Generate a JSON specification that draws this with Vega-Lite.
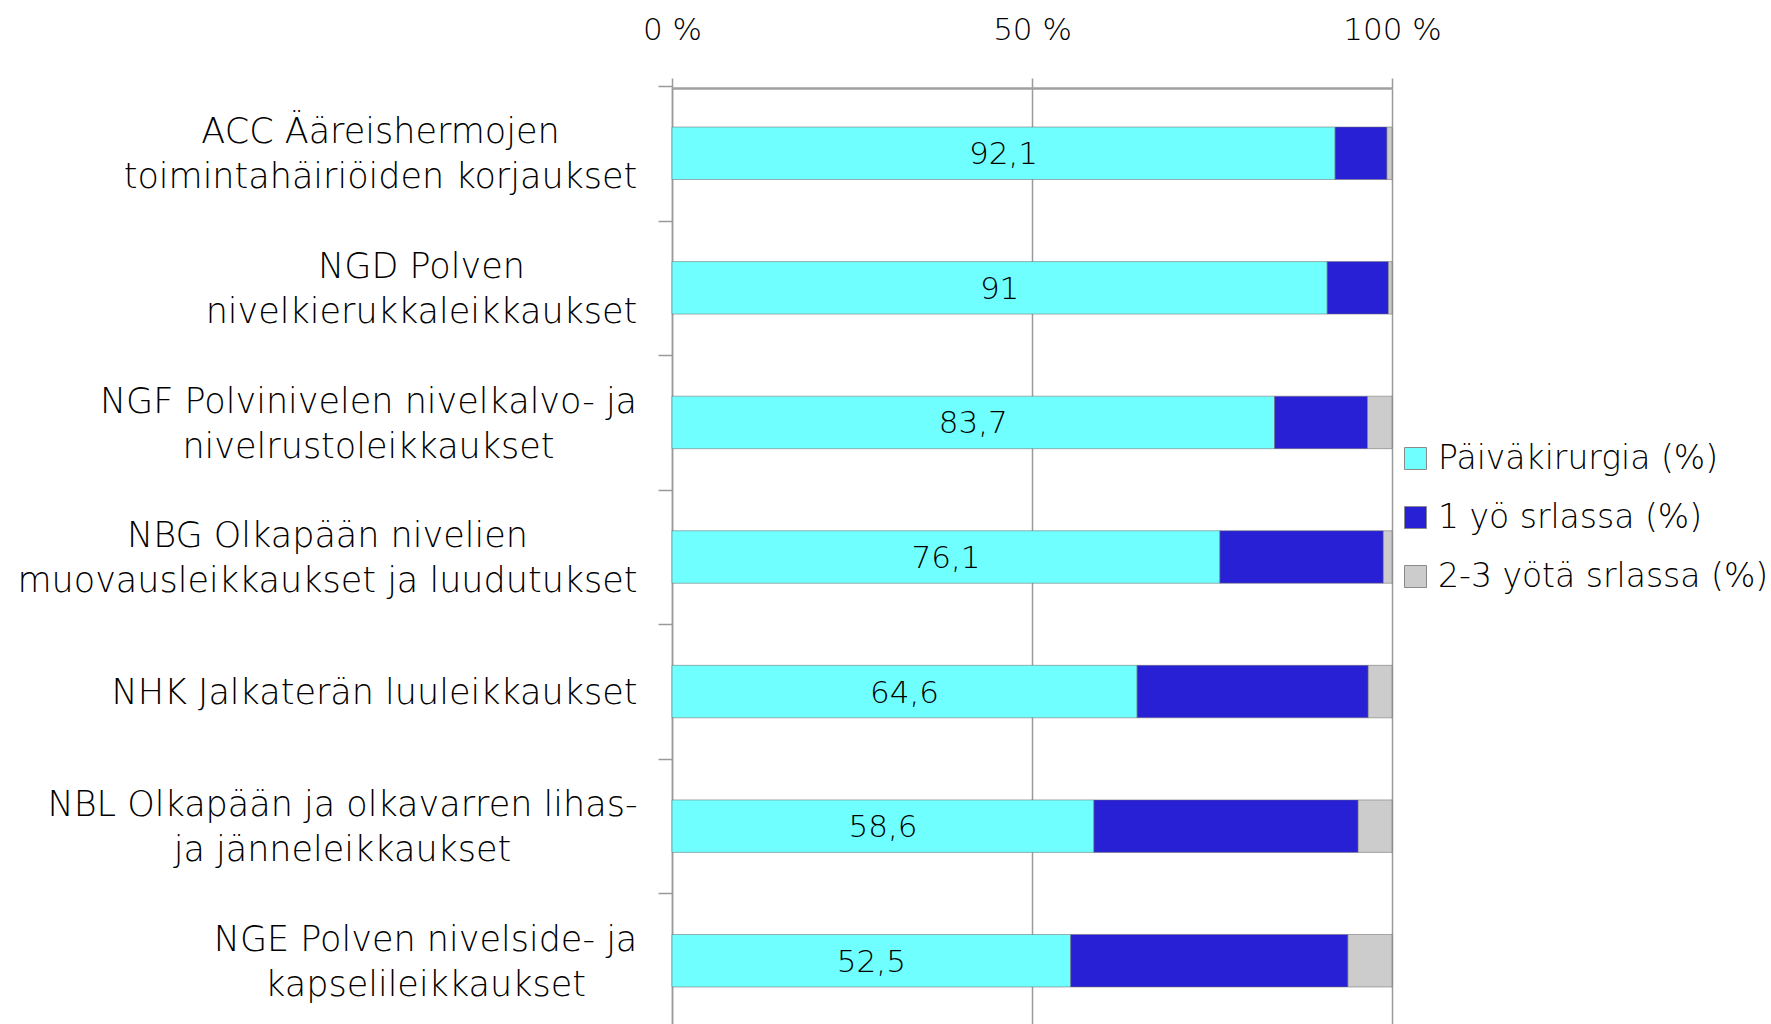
{
  "$schema": "https://vega.github.io/schema/vega-lite/v6.json",
  "autosize": {"type": "none"},
  "padding": {"left": 672, "top": 88, "right": 379, "bottom": 0},
  "width": 720,
  "height": 938,
  "background": "white",
  "config": {
    "view": {"stroke": null},
    "font": "DejaVu Sans",
    "locale": {"number": {"decimal": ",", "thousands": "\u00a0", "grouping": [3], "currency": ["", "\u00a0€"], "percent": "\u00a0%"}}
  },
  "data": {
    "values": [
      {"cat": "ACC Ääreishermojen\ntoimintahäiriöiden korjaukset", "series": "Päiväkirurgia (%)", "k": 1, "value": 92.1},
      {"cat": "ACC Ääreishermojen\ntoimintahäiriöiden korjaukset", "series": "1 yö srlassa  (%)", "k": 2, "value": 7.2},
      {"cat": "ACC Ääreishermojen\ntoimintahäiriöiden korjaukset", "series": "2-3 yötä srlassa (%)", "k": 3, "value": 0.7},
      {"cat": "NGD Polven\nnivelkierukkaleikkaukset", "series": "Päiväkirurgia (%)", "k": 1, "value": 91},
      {"cat": "NGD Polven\nnivelkierukkaleikkaukset", "series": "1 yö srlassa  (%)", "k": 2, "value": 8.5},
      {"cat": "NGD Polven\nnivelkierukkaleikkaukset", "series": "2-3 yötä srlassa (%)", "k": 3, "value": 0.5},
      {"cat": "NGF Polvinivelen nivelkalvo- ja\nnivelrustoleikkaukset", "series": "Päiväkirurgia (%)", "k": 1, "value": 83.7},
      {"cat": "NGF Polvinivelen nivelkalvo- ja\nnivelrustoleikkaukset", "series": "1 yö srlassa  (%)", "k": 2, "value": 12.9},
      {"cat": "NGF Polvinivelen nivelkalvo- ja\nnivelrustoleikkaukset", "series": "2-3 yötä srlassa (%)", "k": 3, "value": 3.4},
      {"cat": "NBG Olkapään nivelien\nmuovausleikkaukset ja luudutukset", "series": "Päiväkirurgia (%)", "k": 1, "value": 76.1},
      {"cat": "NBG Olkapään nivelien\nmuovausleikkaukset ja luudutukset", "series": "1 yö srlassa  (%)", "k": 2, "value": 22.7},
      {"cat": "NBG Olkapään nivelien\nmuovausleikkaukset ja luudutukset", "series": "2-3 yötä srlassa (%)", "k": 3, "value": 1.2},
      {"cat": "NHK Jalkaterän luuleikkaukset", "series": "Päiväkirurgia (%)", "k": 1, "value": 64.6},
      {"cat": "NHK Jalkaterän luuleikkaukset", "series": "1 yö srlassa  (%)", "k": 2, "value": 32.1},
      {"cat": "NHK Jalkaterän luuleikkaukset", "series": "2-3 yötä srlassa (%)", "k": 3, "value": 3.3},
      {"cat": "NBL Olkapään ja olkavarren lihas-\nja jänneleikkaukset", "series": "Päiväkirurgia (%)", "k": 1, "value": 58.6},
      {"cat": "NBL Olkapään ja olkavarren lihas-\nja jänneleikkaukset", "series": "1 yö srlassa  (%)", "k": 2, "value": 36.7},
      {"cat": "NBL Olkapään ja olkavarren lihas-\nja jänneleikkaukset", "series": "2-3 yötä srlassa (%)", "k": 3, "value": 4.7},
      {"cat": "NGE Polven nivelside- ja\nkapselileikkaukset", "series": "Päiväkirurgia (%)", "k": 1, "value": 52.5},
      {"cat": "NGE Polven nivelside- ja\nkapselileikkaukset", "series": "1 yö srlassa  (%)", "k": 2, "value": 36.5},
      {"cat": "NGE Polven nivelside- ja\nkapselileikkaukset", "series": "2-3 yötä srlassa (%)", "k": 3, "value": 5.8}
    ]
  },
  "encoding": {
    "y": {
      "field": "cat",
      "type": "nominal",
      "sort": null,
      "title": null,
      "scale": {"paddingInner": 0.61, "paddingOuter": 0.29},
      "axis": {
        "labelExpr": "split(datum.label, '\\n')",
        "labelFontSize": 35,
        "labelFontWeight": 200,
        "labelColor": "#000000",
        "labelLineHeight": 45,
        "labelLimit": 900,
        "labelAlign": "center",
        "labelPadding": {
          "condition": [
            {"test": "indexof(datum.value, 'ACC') === 0", "value": 278},
            {"test": "indexof(datum.value, 'NGD') === 0", "value": 237},
            {"test": "indexof(datum.value, 'NGF') === 0", "value": 290},
            {"test": "indexof(datum.value, 'NBG') === 0", "value": 331},
            {"test": "indexof(datum.value, 'NHK') === 0", "value": 284},
            {"test": "indexof(datum.value, 'NBL') === 0", "value": 316}
          ],
          "value": 233
        },
        "labelOffset": {"condition": {"test": "indexof(datum.value, '\\n') >= 0", "value": 46}, "value": 68},
        "tickOffset": -67.3,
        "tickSize": 14,
        "tickColor": "#9a9a9a",
        "tickWidth": 1.5,
        "domainColor": "#9a9a9a",
        "domainWidth": 1.5,
        "grid": false
      }
    },
    "x": {
      "field": "value",
      "type": "quantitative",
      "stack": "normalize",
      "title": null,
      "axis": {
        "orient": "top",
        "values": [0, 0.5, 1],
        "format": ".0%",
        "labelFlush": false,
        "labelFontSize": 31,
        "labelFontWeight": 200,
        "labelColor": "#000000",
        "labelPadding": 32,
        "tickSize": 10,
        "tickColor": "#9a9a9a",
        "tickWidth": 1.5,
        "domainColor": "#a0a0a0",
        "domainWidth": 2.5,
        "grid": true,
        "gridColor": "#9a9a9a",
        "gridWidth": 1.5
      }
    },
    "order": {"field": "k", "type": "quantitative"}
  },
  "layer": [
    {
      "mark": {"type": "bar", "stroke": "#6f6f6f", "strokeWidth": 1, "strokeOpacity": 0.55},
      "encoding": {
        "color": {
          "field": "series",
          "type": "nominal",
          "scale": {
            "domain": ["Päiväkirurgia (%)", "1 yö srlassa  (%)", "2-3 yötä srlassa (%)"],
            "range": ["#70FFFF", "#2820D4", "#CCCCCC"]
          },
          "legend": {
            "title": null,
            "orient": "none",
            "legendX": 727,
            "legendY": 354,
            "padding": 0,
            "symbolType": "square",
            "symbolSize": 484,
            "symbolStrokeColor": "#8a8a8a",
            "symbolStrokeWidth": 1,
            "labelFontSize": 33,
            "labelFontWeight": 200,
            "labelColor": "#000000",
            "labelOffset": 6,
            "labelLimit": 600,
            "rowPadding": 25
          }
        }
      }
    },
    {
      "mark": {"type": "text", "fontSize": 31, "fontWeight": 200, "color": "#000000", "baseline": "middle", "align": "center", "dy": 2},
      "encoding": {
        "x": {"field": "value", "type": "quantitative", "stack": "normalize", "bandPosition": 0.5},
        "text": {
          "condition": {"test": "datum.series === 'Päiväkirurgia (%)'", "field": "value", "type": "quantitative", "format": ".1~f"},
          "value": ""
        }
      }
    }
  ]
}
